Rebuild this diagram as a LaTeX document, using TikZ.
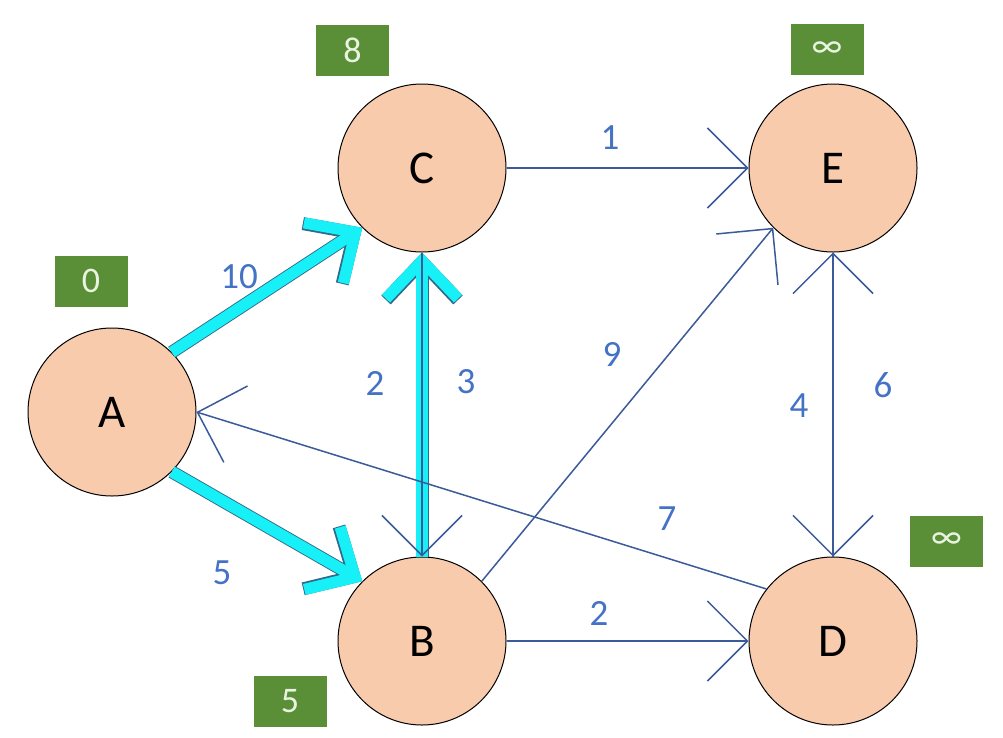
\documentclass[tikz,border=0pt]{standalone}
\usepackage{fontspec}
\setmainfont{Carlito}
\usetikzlibrary{arrows.meta}
\definecolor{nodefill}{HTML}{F8CBAD}
\definecolor{edgeblue}{HTML}{3B5A9A}
\definecolor{labelblue}{HTML}{4472C4}
\definecolor{boxgreen}{HTML}{5A8F38}
\definecolor{boxtext}{HTML}{E8F4E0}
\definecolor{cyanfill}{HTML}{18F0F8}
\definecolor{cyanedge}{HTML}{2F6A8C}
\begin{document}
\begin{tikzpicture}[x=1pt,y=-1pt,
  vertex/.style={circle, draw=black, line width=1pt, fill=nodefill, minimum size=168pt, inner sep=0pt, font=\fontsize{47}{50}\selectfont},
  dist/.style={rectangle, fill=boxgreen, minimum width=73pt, minimum height=51pt, inner sep=0pt, text=boxtext, font=\fontsize{36}{40}\selectfont},
  wlabel/.style={text=labelblue, font=\fontsize{37}{40}\selectfont, inner sep=0pt},
  thinarrow/.style={draw=edgeblue, line width=1.5pt, -{Straight Barb[length=40pt, width=80pt, sharp]}},
  hiedge/.style={draw=cyanedge, line width=13pt, -{Straight Barb[length=38pt, width=72pt, sharp]}},
  hifill/.style={draw=cyanfill, line width=11.2pt, -{Straight Barb[length=38pt, width=72pt, sharp]}},
]
\useasboundingbox (0,0) rectangle (1003,737);
% vertices
\node[vertex] (A) at (112,412) {A};
\node[vertex] (C) at (422,168) {C};
\node[vertex] (E) at (833,168) {E};
\node[vertex] (B) at (422,641) {B};
\node[vertex] (D) at (833,641) {D};
% distance boxes
\node[dist] (dC) at (352.5,50.5) {8};
\node[dist] (dE) at (827,49.5) {∞};
\node[dist] (dA) at (91,281) {0};
\node[dist] (dD) at (946.5,541) {∞};
\node[dist] (dB) at (290,701.5) {5};
% highlighted edges
\draw[hiedge] (A.45) -- (C.-135);
\draw[hifill] (A.45) -- (C.-135);
\draw[hiedge] (A.-45) -- (B.135);
\draw[hifill] (A.-45) -- (B.135);
\draw[hiedge] (B) -- (C);
\draw[hifill] (B) -- (C);
% thin edges
\draw[thinarrow] (C) -- (B);
\draw[thinarrow] (C) -- (E);
\draw[thinarrow] (B.45) -- (E.-135);
\draw[thinarrow] (B) -- (D);
\draw[thinarrow] (D.142) -- (A.east);
\draw[thinarrow] (E) -- (D);
\draw[thinarrow] (D) -- (E);
% weights
\node[wlabel] (w1) at (610,138) {1};
\node[wlabel] (w10) at (239,277) {10};
\node[wlabel] (w5) at (222,573) {5};
\node[wlabel] (w9) at (612,354) {9};
\node[wlabel] (w4) at (799,406) {4};
\node[wlabel] (w6) at (883,385) {6};
\node[wlabel] (w7) at (667,519) {7};
\node[wlabel] (w2a) at (375,383) {2};
\node[wlabel] (w3) at (466,382) {3};
\node[wlabel] (w2b) at (599,613) {2};
\end{tikzpicture}
\end{document}
